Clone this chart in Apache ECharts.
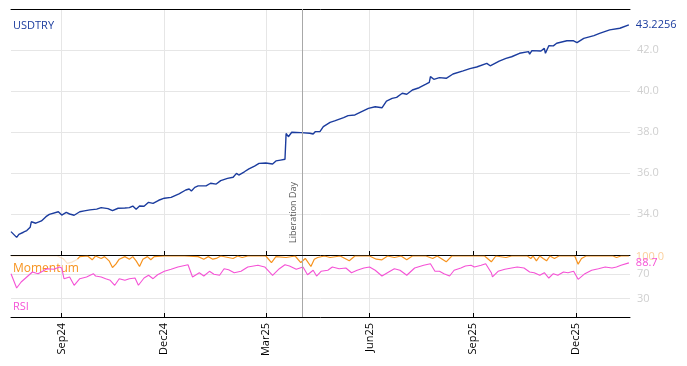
<!DOCTYPE html>
<html><head><meta charset="utf-8">
<script src="https://cdn.jsdelivr.net/npm/echarts@6/dist/echarts.min.js"></script>
<style>html,body{margin:0;padding:0;background:#fff}#c{width:687px;height:366px}</style>
</head><body><div id="c"></div>
<script>
const priceDates = ['2024-07-18','2024-07-23','2024-07-25','2024-07-29','2024-08-01','2024-08-04','2024-08-05','2024-08-09','2024-08-14','2024-08-18','2024-08-21','2024-08-29','2024-09-01','2024-09-05','2024-09-08','2024-09-12','2024-09-17','2024-09-21','2024-09-26','2024-10-02','2024-10-03','2024-10-06','2024-10-12','2024-10-16','2024-10-21','2024-10-27','2024-10-31','2024-11-03','2024-11-06','2024-11-09','2024-11-13','2024-11-17','2024-11-21','2024-11-26','2024-12-01','2024-12-07','2024-12-14','2024-12-20','2024-12-23','2024-12-25','2024-12-28','2024-12-31','2025-01-07','2025-01-11','2025-01-16','2025-01-20','2025-01-26','2025-01-31','2025-02-03','2025-02-05','2025-02-10','2025-02-14','2025-02-19','2025-02-23','2025-03-01','2025-03-07','2025-03-10','2025-03-14','2025-03-18','2025-03-19','2025-03-21','2025-03-24','2025-04-01','2025-04-09','2025-04-12','2025-04-14','2025-04-15','2025-04-18','2025-04-21','2025-04-27','2025-05-01','2025-05-09','2025-05-13','2025-05-19','2025-05-25','2025-05-31','2025-06-06','2025-06-12','2025-06-16','2025-06-21','2025-06-25','2025-06-30','2025-07-04','2025-07-09','2025-07-15','2025-07-21','2025-07-24','2025-07-25','2025-07-28','2025-08-02','2025-08-08','2025-08-14','2025-08-23','2025-08-29','2025-09-04','2025-09-13','2025-09-16','2025-09-24','2025-09-30','2025-10-05','2025-10-12','2025-10-20','2025-10-21','2025-10-23','2025-10-31','2025-11-03','2025-11-04','2025-11-07','2025-11-11','2025-11-14','2025-11-23','2025-11-29','2025-12-02','2025-12-08','2025-12-17','2025-12-22','2025-12-31','2026-01-09','2026-01-17'];
const priceValues = [33.14,32.86,33.01,33.11,33.19,33.35,33.62,33.55,33.66,33.87,33.98,34.11,33.95,34.08,34.00,33.94,34.11,34.15,34.20,34.24,34.15,34.31,34.26,34.16,34.28,34.29,34.31,34.39,34.23,34.39,34.38,34.57,34.52,34.67,34.77,34.81,34.98,35.17,35.22,35.12,35.30,35.37,35.37,35.50,35.46,35.63,35.74,35.79,35.98,35.90,36.06,36.20,36.34,36.47,36.49,36.44,36.59,36.63,36.67,37.93,37.77,37.99,37.97,37.94,37.90,38.02,38.10,38.02,38.26,38.47,38.54,38.70,38.80,38.83,38.99,39.15,39.23,39.18,39.51,39.64,39.69,39.89,39.84,40.05,40.16,40.33,40.42,40.70,40.57,40.65,40.62,40.83,40.98,41.09,41.17,41.35,41.23,41.46,41.59,41.67,41.84,41.92,41.80,41.97,41.95,42.08,41.84,42.21,42.20,42.33,42.45,42.45,42.36,42.57,42.70,42.81,42.98,43.06,43.2256];

const rsiDates = ['2024-07-18','2024-07-23','2024-07-27','2024-08-01','2024-08-06','2024-08-11','2024-08-15','2024-08-19','2024-08-25','2024-08-30','2024-09-01','2024-09-03','2024-09-08','2024-09-12','2024-09-17','2024-09-23','2024-09-29','2024-10-01','2024-10-06','2024-10-10','2024-10-14','2024-10-18','2024-10-22','2024-10-27','2024-10-31','2024-11-05','2024-11-08','2024-11-13','2024-11-17','2024-11-21','2024-11-25','2024-12-01','2024-12-07','2024-12-13','2024-12-22','2024-12-26','2025-01-01','2025-01-05','2025-01-10','2025-01-14','2025-01-19','2025-01-23','2025-01-27','2025-02-01','2025-02-07','2025-02-13','2025-02-22','2025-02-28','2025-03-07','2025-03-13','2025-03-18','2025-03-22','2025-03-28','2025-04-03','2025-04-07','2025-04-12','2025-04-15','2025-04-19','2025-04-25','2025-04-29','2025-05-05','2025-05-11','2025-05-16','2025-05-21','2025-05-27','2025-06-01','2025-06-06','2025-06-12','2025-06-18','2025-06-23','2025-06-28','2025-07-04','2025-07-11','2025-07-19','2025-07-25','2025-07-29','2025-08-02','2025-08-06','2025-08-11','2025-08-15','2025-08-21','2025-08-25','2025-08-30','2025-09-02','2025-09-08','2025-09-12','2025-09-17','2025-09-18','2025-09-23','2025-09-29','2025-10-05','2025-10-10','2025-10-16','2025-10-21','2025-10-25','2025-10-30','2025-11-03','2025-11-07','2025-11-11','2025-11-15','2025-11-20','2025-11-24','2025-11-29','2025-12-03','2025-12-09','2025-12-15','2025-12-21','2025-12-27','2026-01-02','2026-01-06','2026-01-10','2026-01-17'];
const rsiValues = [71.0,47.5,57.4,65.6,73.8,71.0,74.9,79.2,78.2,82.0,80.3,62.8,65.6,52.0,62.8,65.6,71.0,67.2,65.6,62.8,60.2,52.0,62.8,60.2,62.8,63.9,52.0,63.9,68.4,62.8,69.3,74.9,78.2,82.0,85.7,65.6,72.6,67.2,74.9,70.0,68.5,79.2,77.6,72.6,74.9,82.0,84.8,82.0,68.4,79.2,85.7,83.6,78.2,82.0,69.3,76.6,67.2,74.9,76.6,82.0,79.2,80.3,72.6,76.6,80.3,82.0,76.6,67.2,73.8,79.2,76.6,68.4,80.3,84.8,87.4,74.9,74.9,71.0,67.2,76.6,80.3,83.6,84.8,82.0,84.8,87.4,72.6,65.6,74.9,78.2,80.3,82.0,80.3,73.8,72.6,68.4,72.6,63.9,71.0,68.4,73.8,72.6,74.9,61.8,71.0,76.6,79.2,82.0,80.3,82.0,84.8,88.7];

const momWarmDates = ['2024-07-18','2024-08-28','2024-09-02','2024-09-06','2024-09-10','2024-09-15'];
const momWarmValues = [100,100,96,88,90,94.8];

const momDates = ['2024-09-15','2024-09-17','2024-09-24','2024-09-28','2024-10-01','2024-10-06','2024-10-09','2024-10-13','2024-10-16','2024-10-19','2024-10-22','2024-10-27','2024-10-31','2024-11-03','2024-11-06','2024-11-09','2024-11-12','2024-11-16','2024-11-19','2024-11-22','2024-12-01','2024-12-19','2024-12-31','2025-01-05','2025-01-09','2025-01-13','2025-01-16','2025-01-20','2025-01-31','2025-02-04','2025-02-08','2025-02-13','2025-03-01','2025-03-06','2025-03-10','2025-03-19','2025-03-27','2025-04-01','2025-04-05','2025-04-10','2025-04-13','2025-04-16','2025-04-22','2025-04-27','2025-05-06','2025-05-14','2025-05-19','2025-06-01','2025-06-07','2025-06-12','2025-06-17','2025-06-23','2025-06-29','2025-07-04','2025-07-09','2025-07-21','2025-07-27','2025-07-31','2025-08-08','2025-08-13','2025-09-11','2025-09-17','2025-09-21','2025-09-30','2025-10-05','2025-10-19','2025-10-22','2025-10-24','2025-10-27','2025-10-30','2025-11-02','2025-11-05','2025-11-08','2025-11-12','2025-11-16','2025-11-30','2025-12-03','2025-12-06','2025-12-10','2026-01-03','2026-01-06','2026-01-10','2026-01-17'];
const momValues = [94.8,99,100,93.8,100,95.9,99,92.1,81.1,86.6,94.8,99,94.8,99,92.1,82.8,94.8,99,93.8,99,100,100,99,94.8,99,94.8,96,100,95.9,100,97.5,100,100,89.3,99,97.5,100,89.3,96,82.8,94.8,97.5,100,97.5,100,92.1,100,100,94.8,93.8,100,97.5,100,93.8,100,100,95.9,100,90.5,100,100,90.5,100,97.5,100,100,95.9,100,92.1,100,95.9,92.1,100,95.9,100,100,86.6,95.9,100,100,97.5,100,100];

const tickDates = ['2024-09-01','2024-12-01','2025-03-01','2025-06-01','2025-09-01','2025-12-01'];
const tickLabels = ['Sep24','Dec24','Mar25','Jun25','Sep25','Dec25'];
const priceTicks = [32, 44, 2];
const rsiTicks = [30, 70];
const eventDate = '2025-04-02';
const eventLabel = 'Liberation Day';
const xRange = ['2024-07-18', '2026-01-18'];

const T = s => { const p = s.split('-').map(Number); return Date.UTC(p[0], p[1] - 1, p[2]); };
const pair = (d, v) => d.map((x, i) => [T(x), v[i]]);
const tickTs = tickDates.map(T);
const FONT = 'Open Sans';
const BLUE = '#1b3c9e', ORANGE = '#f7931e', MAGENTA = '#f552d6', GRID = '#e6e6e6';

function xAxisCfg(gi, showLabels) {
  return {
    type: 'value', gridIndex: gi, min: T(xRange[0]), max: T(xRange[1]),
    axisLine: { show: true, onZero: false, lineStyle: { color: '#000', width: 1 } },
    axisTick: { show: true, inside: true, length: 4, customValues: tickTs, lineStyle: { color: '#000' } },
    axisLabel: { show: showLabels, customValues: tickTs, rotate: 90, margin: 6, color: '#000', fontSize: 11, fontFamily: FONT,
      formatter: v => { const i = tickTs.indexOf(v); return i >= 0 ? tickLabels[i] : ''; } },
    splitLine: { show: true, lineStyle: { color: GRID, width: 1 } }
  };
}

const chart = echarts.init(document.getElementById('c'));
chart.setOption({
  animation: false,
  backgroundColor: '#fff',
  grid: [
    { left: 11, right: 57, top: 9, height: 246, outerBoundsMode: 'none' },
    { left: 11, right: 57, top: 256, height: 61, outerBoundsMode: 'none' }
  ],
  xAxis: [
    xAxisCfg(0, false),
    xAxisCfg(1, true),
    { type: 'value', gridIndex: 0, position: 'top', min: T(xRange[0]), max: T(xRange[1]),
      axisLine: { show: true, onZero: false, lineStyle: { color: '#000', width: 1 } },
      axisTick: { show: false }, axisLabel: { show: false }, splitLine: { show: false } }
  ],
  yAxis: [
    { type: 'value', gridIndex: 0, position: 'right', min: priceTicks[0], max: priceTicks[1], interval: priceTicks[2],
      axisLine: { show: false }, axisTick: { show: false },
      axisLabel: { color: '#cfcfcf', fontSize: 11, fontFamily: FONT, margin: 7, showMinLabel: false, showMaxLabel: false,
        formatter: v => v.toFixed(1) },
      splitLine: { show: true, lineStyle: { color: GRID } } },
    { type: 'value', gridIndex: 1, position: 'right', min: 0, max: 100,
      axisLine: { show: false }, axisTick: { show: false, customValues: rsiTicks },
      axisLabel: { customValues: rsiTicks, color: '#cfcfcf', fontSize: 11, fontFamily: FONT, margin: 7 },
      splitLine: { show: true, lineStyle: { color: GRID } } }
  ],
  series: [
    { name: 'USDTRY', type: 'line', xAxisIndex: 0, yAxisIndex: 0, data: pair(priceDates, priceValues),
      showSymbol: false, lineStyle: { color: BLUE, width: 1.4 }, itemStyle: { color: BLUE },
      endLabel: { show: true, distance: 7, color: BLUE, fontSize: 11, fontFamily: FONT, formatter: p => String(p.value[1]) },
      markLine: { silent: true, symbol: 'none', animation: false,
        lineStyle: { color: '#a8a8a8', width: 1, type: 'solid' },
        label: { show: true, position: 'insideStartTop', formatter: eventLabel, color: '#555', fontSize: 9, fontFamily: FONT, distance: [12, 4] },
        data: [{ xAxis: T(eventDate) }] } },
    { name: 'MomentumWarm', type: 'line', xAxisIndex: 1, yAxisIndex: 1, data: pair(momWarmDates, momWarmValues),
      showSymbol: false, lineStyle: { color: ORANGE, width: 1.2, opacity: 0.25 } },
    { name: 'Momentum', type: 'line', xAxisIndex: 1, yAxisIndex: 1, data: pair(momDates, momValues),
      showSymbol: false, lineStyle: { color: ORANGE, width: 1.2 }, itemStyle: { color: ORANGE },
      endLabel: { show: true, distance: 7, color: 'rgba(247,147,30,0.45)', fontSize: 11, fontFamily: FONT, offset: [0, 1], formatter: p => p.value[1].toFixed(1) } },
    { name: 'RSI', type: 'line', xAxisIndex: 1, yAxisIndex: 1, data: pair(rsiDates, rsiValues),
      showSymbol: false, lineStyle: { color: MAGENTA, width: 1.1 }, itemStyle: { color: MAGENTA },
      endLabel: { show: true, distance: 7, color: MAGENTA, fontSize: 11, fontFamily: FONT, formatter: p => p.value[1].toFixed(1) },
      markLine: { silent: true, symbol: 'none', animation: false, label: { show: false },
        lineStyle: { color: '#a8a8a8', width: 1, type: 'solid' }, data: [{ xAxis: T(eventDate) }] } }
  ],
  graphic: [
    { type: 'text', left: 13, top: 20, style: { text: 'USDTRY', fill: BLUE, font: '11px "Open Sans"' } },
    { type: 'text', left: 13, top: 263, style: { text: 'Momentum', fill: ORANGE, font: '12px "Open Sans"' } },
    { type: 'text', left: 13, top: 301, style: { text: 'RSI', fill: MAGENTA, font: '11px "Open Sans"' } }
  ]
});
</script></body></html>
